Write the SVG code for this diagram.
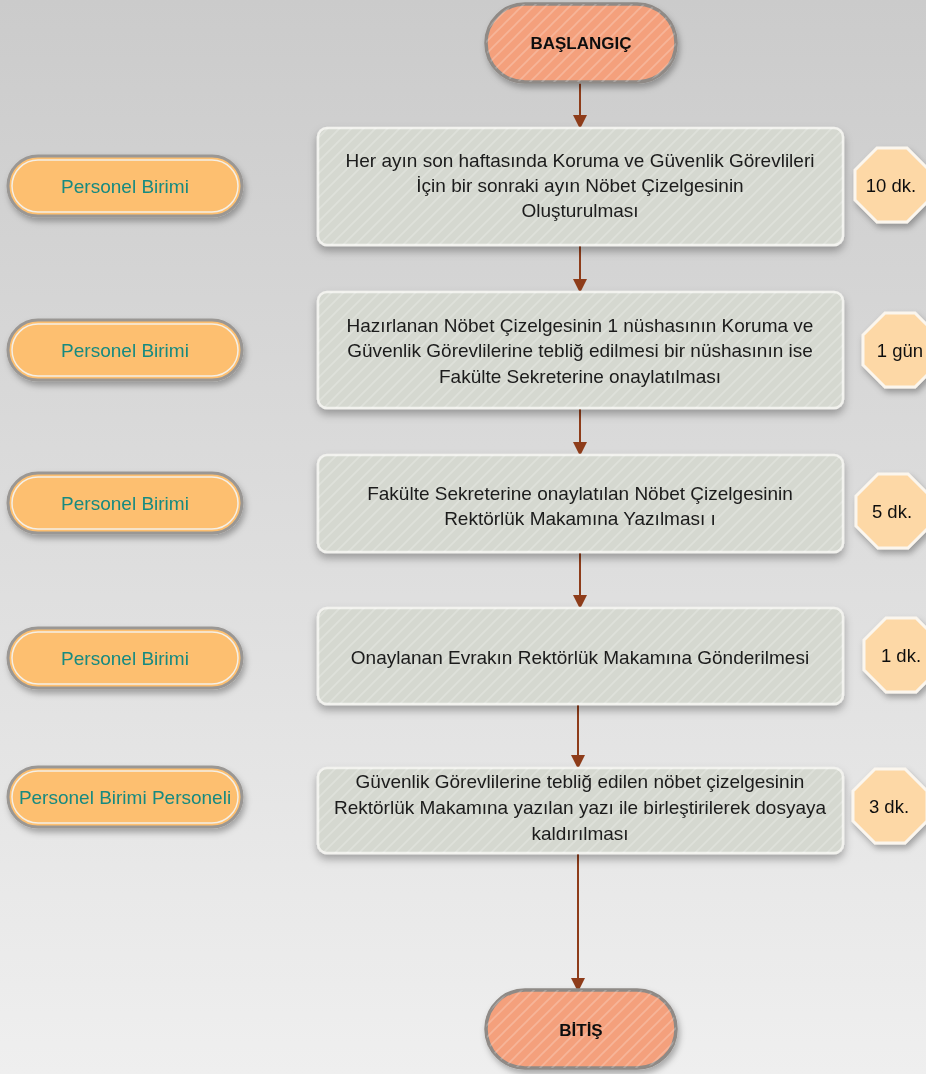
<svg xmlns="http://www.w3.org/2000/svg" width="926" height="1074" viewBox="0 0 926 1074">
<defs>
<linearGradient id="bg" x1="0" y1="0" x2="0" y2="1">
<stop offset="0" stop-color="#cbcbcb"/>
<stop offset="1" stop-color="#efefef"/>
</linearGradient>
<pattern id="stripe" width="12" height="12" patternUnits="userSpaceOnUse">
<path d="M-2,14 L14,-2 M-8,8 L8,-8 M4,20 L20,4" stroke="#ffffff" stroke-opacity="0.22" stroke-width="1.6"/>
</pattern>
<filter id="sh" x="-10%" y="-20%" width="120%" height="150%">
<feDropShadow dx="0" dy="5" stdDeviation="4" flood-color="#000" flood-opacity="0.3"/>
</filter>
<filter id="sh2" x="-20%" y="-20%" width="140%" height="150%">
<feDropShadow dx="2" dy="4" stdDeviation="3" flood-color="#000" flood-opacity="0.3"/>
</filter>
<marker id="arr" markerWidth="14" markerHeight="14" refX="12" refY="7" orient="auto" markerUnits="userSpaceOnUse" viewBox="0 0 14 14">
<path d="M0,0 L14,7 L0,14 z" fill="#8e3c1a"/>
</marker>
<style>
.box{fill:#d5d8d0;stroke:#f2f2ee;stroke-width:2.5}
.ov{fill:url(#stripe)}
.txt{font-family:"Liberation Sans",Arial,sans-serif;font-size:19px;fill:#1a1a1a;text-anchor:middle}
.term{fill:#f4a07c;stroke:#8f8a86;stroke-width:3.5}
.ttxt{font-family:"Liberation Sans",Arial,sans-serif;font-size:17px;font-weight:bold;fill:#111;text-anchor:middle}
.role{fill:#fdbf6f;stroke:#9a9794;stroke-width:3}
.roleIn{fill:none;stroke:#f4efe6;stroke-width:1.5}
.rtxt{font-family:"Liberation Sans",Arial,sans-serif;font-size:19px;fill:#178a80;text-anchor:middle}
.oct{fill:#fdd8a6;stroke:#fbf6ee;stroke-width:3}
.otxt{font-family:"Liberation Sans",Arial,sans-serif;font-size:18.5px;fill:#111;text-anchor:middle}
.con{stroke:#8e3c1a;stroke-width:2;fill:none;marker-end:url(#arr)}
</style>
</defs>
<rect width="926" height="1074" fill="url(#bg)"/>

<g id="connectors">
<line class="con" x1="580" y1="83" x2="580" y2="127"/>
<line class="con" x1="580" y1="246" x2="580" y2="291"/>
<line class="con" x1="580" y1="409" x2="580" y2="454"/>
<line class="con" x1="580" y1="553" x2="580" y2="607"/>
<line class="con" x1="578" y1="704" x2="578" y2="767"/>
<line class="con" x1="578" y1="853" x2="578" y2="990"/>
</g>

<g id="start" filter="url(#sh2)">
<rect class="term" x="486" y="4" width="190" height="78" rx="39"/>
<rect class="ov" x="486" y="4" width="190" height="78" rx="39"/>
<text class="ttxt" x="581" y="49">BAŞLANGIÇ</text>
</g>

<g id="step1" filter="url(#sh)">
<rect class="box" x="318" y="128" width="525" height="117" rx="9"/>
<rect class="ov" x="318" y="128" width="525" height="117" rx="9"/>
<text class="txt" x="580" y="167">Her ayın son haftasında Koruma ve Güvenlik Görevlileri</text>
<text class="txt" x="580" y="192">İçin bir sonraki ayın Nöbet Çizelgesinin</text>
<text class="txt" x="580" y="217">Oluşturulması</text>
</g>

<g id="step2" filter="url(#sh)">
<rect class="box" x="318" y="292" width="525" height="116" rx="9"/>
<rect class="ov" x="318" y="292" width="525" height="116" rx="9"/>
<text class="txt" x="580" y="332">Hazırlanan Nöbet Çizelgesinin 1 nüshasının Koruma ve</text>
<text class="txt" x="580" y="357">Güvenlik Görevlilerine  tebliğ edilmesi bir nüshasının ise</text>
<text class="txt" x="580" y="383">Fakülte Sekreterine onaylatılması</text>
</g>

<g id="step3" filter="url(#sh)">
<rect class="box" x="318" y="455" width="525" height="97" rx="9"/>
<rect class="ov" x="318" y="455" width="525" height="97" rx="9"/>
<text class="txt" x="580" y="500">Fakülte Sekreterine onaylatılan Nöbet Çizelgesinin</text>
<text class="txt" x="580" y="525">Rektörlük Makamına Yazılması ı</text>
</g>

<g id="step4" filter="url(#sh)">
<rect class="box" x="318" y="608" width="525" height="96" rx="9"/>
<rect class="ov" x="318" y="608" width="525" height="96" rx="9"/>
<text class="txt" x="580" y="664">Onaylanan Evrakın Rektörlük Makamına Gönderilmesi</text>
</g>

<g id="step5" filter="url(#sh)">
<rect class="box" x="318" y="768" width="525" height="85" rx="9"/>
<rect class="ov" x="318" y="768" width="525" height="85" rx="9"/>
<text class="txt" x="580" y="788">Güvenlik Görevlilerine tebliğ edilen nöbet çizelgesinin</text>
<text class="txt" x="580" y="814">Rektörlük Makamına yazılan yazı ile birleştirilerek dosyaya</text>
<text class="txt" x="580" y="840">kaldırılması</text>
</g>

<g id="end" filter="url(#sh2)">
<rect class="term" x="486" y="990" width="190" height="78" rx="39"/>
<rect class="ov" x="486" y="990" width="190" height="78" rx="39"/>
<text class="ttxt" x="581" y="1036">BİTİŞ</text>
</g>

<g id="role1" filter="url(#sh2)">
<rect class="role" x="8" y="156" width="234" height="60" rx="30"/>
<rect class="roleIn" x="12" y="160" width="226" height="52" rx="26"/>
<text class="rtxt" x="125" y="193">Personel Birimi</text>
</g>
<g id="role2" filter="url(#sh2)">
<rect class="role" x="8" y="320" width="234" height="60" rx="30"/>
<rect class="roleIn" x="12" y="324" width="226" height="52" rx="26"/>
<text class="rtxt" x="125" y="357">Personel Birimi</text>
</g>
<g id="role3" filter="url(#sh2)">
<rect class="role" x="8" y="473" width="234" height="60" rx="30"/>
<rect class="roleIn" x="12" y="477" width="226" height="52" rx="26"/>
<text class="rtxt" x="125" y="510">Personel Birimi</text>
</g>
<g id="role4" filter="url(#sh2)">
<rect class="role" x="8" y="628" width="234" height="60" rx="30"/>
<rect class="roleIn" x="12" y="632" width="226" height="52" rx="26"/>
<text class="rtxt" x="125" y="665">Personel Birimi</text>
</g>
<g id="role5" filter="url(#sh2)">
<rect class="role" x="8" y="767" width="234" height="60" rx="30"/>
<rect class="roleIn" x="12" y="771" width="226" height="52" rx="26"/>
<text class="rtxt" x="125" y="804">Personel Birimi Personeli</text>
</g>

<g id="t1" filter="url(#sh2)">
<polygon class="oct" points="877,148 907,148 929,170 929,200 907,222 877,222 855,200 855,170"/>
<text class="otxt" x="891" y="192">10 dk.</text>
</g>
<g id="t2" filter="url(#sh2)">
<polygon class="oct" points="885,313 915,313 937,335 937,365 915,387 885,387 863,365 863,335"/>
<text class="otxt" x="900" y="357">1 gün</text>
</g>
<g id="t3" filter="url(#sh2)">
<polygon class="oct" points="878,474 908,474 930,496 930,526 908,548 878,548 856,526 856,496"/>
<text class="otxt" x="892" y="518">5 dk.</text>
</g>
<g id="t4" filter="url(#sh2)">
<polygon class="oct" points="886,618 916,618 938,640 938,670 916,692 886,692 864,670 864,640"/>
<text class="otxt" x="901" y="662">1 dk.</text>
</g>
<g id="t5" filter="url(#sh2)">
<polygon class="oct" points="875,769 905,769 927,791 927,821 905,843 875,843 853,821 853,791"/>
<text class="otxt" x="889" y="813">3 dk.</text>
</g>
</svg>
